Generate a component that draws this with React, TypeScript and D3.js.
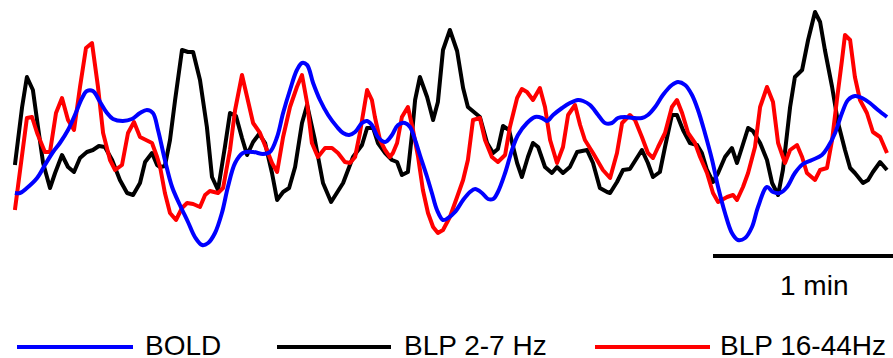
import React from "react";
import * as d3 from "d3";

// time in seconds, amplitude in arbitrary units
const boldT = [0.3,2.0,4.3,7.7,10.3,13.0,15.3,18.0,20.3,22.7,24.3,26.3,28.7,31.0,33.0,36.3,39.3,42.0,44.3,46.3,48.0,50.3,52.7,55.3,58.0,60.3,62.7,64.7,67.0,69.3,71.3,73.7,76.3,79.7,83.0,85.3,87.7,89.7,92.0,94.3,96.0,97.7,99.7,102.0,104.7,107.7,109.7,111.7,113.7,116.0,117.7,119.3,121.3,123.7,126.0,128.0,130.3,132.0,133.7,135.3,137.7,139.3,141.0,143.0,144.7,147.0,149.7,152.0,153.7,156.0,158.0,159.7,161.3,163.7,166.0,168.0,171.0,173.7,176.0,177.7,179.7,182.7,185.3,188.0,189.7,192.0,194.7,197.0,199.3,201.3,203.7,206.3,209.3,211.3,213.7,216.3,219.3,221.3,223.7,226.0,228.0,230.3,232.7,234.7,237.0,239.3,241.3,243.7,246.0,248.0,251.0,253.0,255.3,257.7,260.3,263.0,266.0,269.3,271.3,273.7,276.0,278.0,280.3,282.7,285.3,288.0,291.0];
const boldV = [-6.3,-6.3,-5.8,-4.8,-3.5,-2.2,-1.3,0.0,1.5,3.2,3.9,3.9,2.8,1.7,1.1,0.9,1.1,1.7,2.0,1.7,0.0,-3.0,-5.7,-7.5,-9.2,-10.7,-11.5,-11.3,-10.3,-8.3,-5.7,-3.3,-2.3,-2.2,-2.4,-2.2,-0.7,1.7,4.0,6.0,6.7,6.5,4.7,3.0,1.5,0.3,-0.3,-0.5,-0.2,0.7,0.9,0.5,-0.7,-1.2,-0.5,0.5,0.7,0.3,-1.0,-2.5,-4.7,-6.3,-8.0,-9.0,-8.8,-8.2,-7.0,-6.2,-5.9,-6.3,-6.9,-6.9,-6.2,-4.3,-2.0,-0.5,0.7,1.3,1.2,0.9,1.5,2.2,2.7,3.0,2.9,2.5,1.5,0.7,0.7,1.2,1.3,1.2,1.2,1.5,2.3,3.5,4.5,4.8,4.5,3.5,2.0,-0.3,-3.0,-5.7,-8.3,-10.3,-11.0,-10.8,-9.7,-7.7,-5.7,-6.2,-6.3,-5.7,-4.3,-3.4,-3.0,-2.5,-1.7,-0.3,1.7,3.0,3.4,3.2,2.7,2.0,1.3];

const lowT = [0.3,2.7,4.3,6.3,8.0,9.7,12.0,13.7,16.0,18.0,20.0,22.0,24.3,26.3,28.3,30.3,32.7,35.3,37.7,39.7,42.0,43.7,46.0,47.7,48.7,50.3,52.0,53.7,56.0,58.0,59.7,62.0,64.3,66.0,68.0,70.3,72.0,74.0,76.0,77.7,79.7,81.7,83.7,86.0,87.7,89.7,91.7,93.7,96.0,97.7,100.3,103.0,105.7,109.7,113.0,116.0,117.7,119.7,121.3,123.7,126.0,127.7,129.3,131.3,132.7,133.7,135.3,137.7,139.7,141.3,143.0,145.3,147.7,149.7,151.3,155.3,157.7,159.7,161.3,163.0,165.0,167.7,169.3,171.3,173.0,174.7,177.0,179.3,181.0,183.0,185.3,187.7,191.0,193.0,195.3,197.7,198.7,201.0,203.0,205.3,209.3,211.3,213.0,215.3,217.0,219.3,221.0,223.0,225.3,227.7,229.3,231.0,233.0,234.7,237.0,239.3,241.0,242.7,244.7,246.3,248.7,251.0,252.7,254.7,256.3,258.7,260.3,262.7,264.7,267.0,268.7,270.3,272.7,274.7,277.0,278.7,280.3,283.0,284.7,286.3,288.7,291.0];
const lowV = [-3.5,2.3,5.3,4.0,0.3,-3.3,-5.8,-4.3,-2.5,-3.7,-4.2,-2.8,-2.2,-2.0,-1.6,-1.7,-3.0,-5.0,-6.3,-6.5,-5.3,-3.2,-2.3,-3.5,-3.7,-3.6,-1.0,3.0,8.0,7.8,7.8,5.0,0.3,-4.7,-6.0,-1.7,1.7,1.4,-0.8,-2.5,-1.2,-0.4,-1.3,-4.3,-7.0,-6.2,-5.8,-3.7,0.7,2.5,-1.0,-5.3,-7.2,-5.3,-2.7,-1.5,0.2,0.2,-1.3,-2.3,-3.0,-3.2,-4.5,-4.2,-0.3,3.0,5.3,3.3,1.0,2.8,8.0,10.0,7.9,4.2,2.3,1.3,-1.3,-2.3,-1.9,0.4,0.0,-3.3,-4.7,-2.7,-1.3,-1.7,-3.7,-4.3,-3.7,-4.3,-3.7,-2.2,-2.0,-3.3,-5.8,-6.2,-6.3,-5.2,-4.0,-3.9,-2.0,-3.3,-4.7,-4.2,-1.7,1.5,1.5,0.0,-1.3,-1.5,-2.3,-4.0,-5.2,-4.3,-2.7,-1.8,-3.3,-1.7,0.2,-0.1,-1.3,-3.0,-5.3,-6.5,-4.0,2.3,5.3,6.0,9.0,11.8,10.8,8.0,4.3,0.7,-2.0,-3.8,-4.3,-5.3,-5.0,-4.2,-3.2,-4.0];

const highT = [0.3,4.3,6.0,7.7,10.3,12.0,14.0,16.0,18.0,20.0,22.0,24.0,26.0,28.0,29.7,32.0,33.7,36.0,38.0,40.0,42.0,46.0,47.7,48.7,50.3,52.0,54.0,56.0,57.7,59.7,62.0,63.7,65.3,68.0,69.7,72.0,73.7,76.0,77.7,79.7,82.0,84.3,86.0,87.7,89.7,92.0,94.3,96.0,97.7,99.3,101.3,103.7,106.0,108.0,110.3,112.0,113.7,115.3,117.7,119.3,120.3,122.0,123.7,125.3,126.3,127.7,129.3,131.3,133.0,134.7,136.3,138.0,139.7,141.3,143.0,145.3,147.7,149.7,151.3,153.0,155.3,157.0,159.3,161.3,163.7,165.3,167.7,169.3,171.0,173.0,175.3,177.0,178.7,181.0,183.0,184.7,187.0,188.7,190.3,193.0,196.3,198.7,201.0,202.7,205.3,207.0,209.3,211.3,213.0,214.7,217.0,219.3,221.0,222.7,224.7,227.0,228.7,231.0,233.0,234.7,237.7,239.7,241.0,243.0,244.7,247.0,248.7,251.0,253.0,254.7,257.0,258.7,261.0,262.7,264.3,267.0,268.7,271.0,272.7,274.3,276.0,277.0,278.7,280.3,282.0,284.3,286.3,288.7,291.0];
const highV = [-8.0,1.2,1.3,-0.3,-2.2,-2.2,1.7,3.2,1.0,0.0,4.3,8.2,8.7,4.3,-0.3,-3.0,-4.0,-3.5,-0.3,0.8,-0.7,-1.3,-2.7,-3.7,-6.3,-8.3,-9.0,-7.8,-7.3,-7.4,-7.7,-6.5,-6.1,-6.3,-5.8,-2.0,2.0,5.5,3.3,0.7,-0.3,-2.0,-3.3,-4.2,-0.7,2.3,4.3,5.5,2.7,-1.3,-2.7,-1.8,-1.8,-2.3,-3.2,-3.3,-2.7,-0.3,4.0,3.0,1.3,-1.0,-2.0,-2.7,-2.3,-1.3,1.3,2.3,0.0,-2.7,-6.0,-8.3,-9.7,-10.3,-10.0,-8.7,-6.7,-5.0,-3.0,1.0,1.2,-1.0,-2.7,-3.2,-2.5,0.3,3.2,4.1,3.8,3.0,4.2,2.3,-1.0,-3.3,-1.7,1.5,2.5,0.5,-1.0,-2.3,-4.0,-4.8,-2.3,0.7,1.5,1.0,-0.7,-2.3,-2.8,-1.7,-0.3,2.3,3.0,1.7,-0.3,-1.3,-2.7,-4.3,-6.3,-7.2,-6.7,-6.5,-7.0,-5.7,-4.3,-1.7,2.3,4.3,2.8,-1.3,-3.3,-2.0,-1.5,-2.7,-4.3,-5.0,-4.0,-3.8,-1.0,3.0,7.0,9.5,9.0,5.3,3.0,1.7,-0.2,-0.7,-2.3];

const legendLabels = ["BOLD", "BLP 2-7 Hz", "BLP 16-44Hz"];
const seriesColors = ["#0000ff", "#000000", "#ff0000"];
const scaleBarStart = 233; // seconds
const scaleBarLength = 60; // seconds
const scaleBarLabel = "1 min";

const W = 893;
const H = 358;

export default function App() {
  const x = d3.scaleLinear().domain([0, 291]).range([14, 887]);
  const y = d3.scaleLinear().domain([-12, 12]).range([250, 10]);

  const zip = (t: number[], v: number[]) => t.map((tt, i) => [tt, v[i]] as [number, number]);

  const smooth = d3.line<[number, number]>().x(d => x(d[0])).y(d => y(d[1])).curve(d3.curveCatmullRom.alpha(0.5));
  const jag = d3.line<[number, number]>().x(d => x(d[0])).y(d => y(d[1])).curve(d3.curveLinear);

  const font = "'Liberation Sans', Arial, sans-serif";
  const legendLine = [[17, 133, 145], [277, 391, 404], [595, 710, 720]];

  return (
    <svg width={W} height={H} style={{ position: "absolute", left: 0, top: 0 }} fontFamily={font}>
      <path d={jag(zip(lowT, lowV)) || ""} fill="none" stroke={seriesColors[1]} strokeWidth={4} strokeLinejoin="round" />
      <path d={jag(zip(highT, highV)) || ""} fill="none" stroke={seriesColors[2]} strokeWidth={4} strokeLinejoin="round" />
      <path d={smooth(zip(boldT, boldV)) || ""} fill="none" stroke={seriesColors[0]} strokeWidth={4} strokeLinejoin="round" />

      <line x1={x(scaleBarStart)} x2={x(scaleBarStart + scaleBarLength)} y1={256} y2={256} stroke="#000" strokeWidth={4} />
      <text x={780} y={295} fontSize={28} fill="#000">{scaleBarLabel}</text>

      {legendLabels.map((lab, i) => (
        <g key={lab}>
          <line x1={legendLine[i][0]} x2={legendLine[i][1]} y1={347} y2={347} stroke={seriesColors[i]} strokeWidth={4} />
          <text x={legendLine[i][2]} y={355} fontSize={28} fill="#000">{lab}</text>
        </g>
      ))}
    </svg>
  );
}
